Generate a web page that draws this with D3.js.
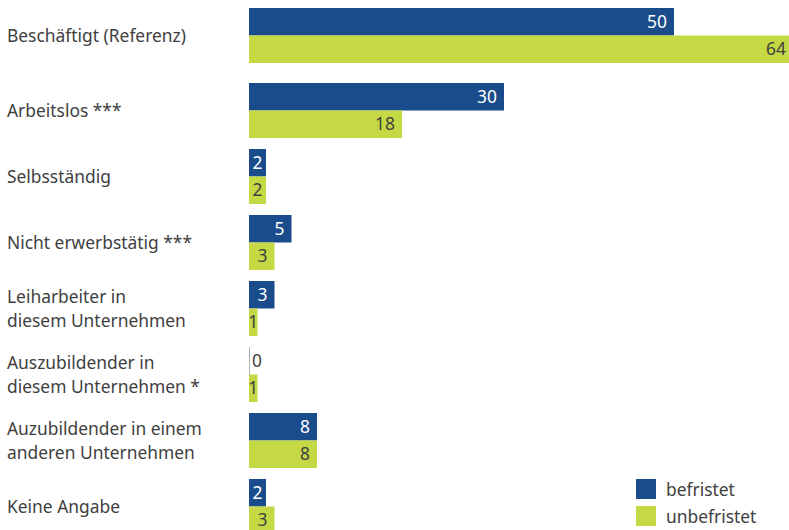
<!DOCTYPE html>
<html>
<head>
<meta charset="utf-8">
<script src="https://cdn.jsdelivr.net/npm/d3@7"></script>
<style>
  body { margin: 0; background: #fff; }
  text { font-family: "Noto Sans", sans-serif; font-size: 17.4px; }
</style>
</head>
<body>
<div id="canvas"></div>
<script>
"use strict"

// DATA

let categories = [
    ["Beschäftigt (Referenz)"],
    ["Arbeitslos ***"],
    ["Selbsständig"],
    ["Nicht erwerbstätig ***"],
    ["Leiharbeiter in", "diesem Unternehmen"],
    ["Auszubildender in", "diesem Unternehmen *"],
    ["Auzubildender in einem", "anderen Unternehmen"],
    ["Keine Angabe"]
];
let seriesNames = ["befristet", "unbefristet"];
let befristet = [50, 30, 2, 5, 3, 0, 8, 2];
let unbefristet = [64, 18, 2, 3, 1, 1, 8, 3];


// CONFIGURATION VARIABLES

let svgWidth = 789;
let svgHeight = 530;
let barLeft = 249;
let pxPerUnit = 8.5;
let refGap = 9;           // extra space below the reference group
let colors = ["#1a4c8b", "#c5d944"];
let textColor = "#404040";


// CREATE SVG

let svg = d3.select("#canvas")
    .append("svg")
    .attr("width", svgWidth)
    .attr("height", svgHeight);


// SCALES

let keys = categories.map(function(c) { return c.join(" "); });

let xScale = d3.scaleLinear()
    .domain([0, 64])
    .range([barLeft, barLeft + 64 * pxPerUnit]);

let yScale = d3.scaleBand()
    .domain(keys)
    .range([17, 534])
    .paddingInner(11 / 66)
    .paddingOuter(0);

let ySub = d3.scaleBand()
    .domain(seriesNames)
    .range([0, yScale.bandwidth()]);

function groupTop(i) {
    return yScale(keys[i]) - (i === 0 ? refGap : 0);
}


// BUILD ROWS

let rows = [];
keys.forEach(function(k, i) {
    rows.push({ i: i, series: 0, value: befristet[i] });
    rows.push({ i: i, series: 1, value: unbefristet[i] });
});


// CATEGORY LABELS

let labels = svg.selectAll("text.category")
    .data(categories)
    .join("text")
    .attr("class", "category")
    .attr("x", 7)
    .attr("fill", textColor)
    .attr("y", function(d, i) {
        let center = groupTop(i) + yScale.bandwidth() / 2;
        return center + 6 - (d.length - 1) * 12;
    });

labels.selectAll("tspan")
    .data(function(d) { return d; })
    .join("tspan")
    .attr("x", 7)
    .attr("dy", function(d, j) { return j === 0 ? 0 : 24; })
    .text(function(d) { return d; });


// BARS

svg.selectAll("rect.bar")
    .data(rows.filter(function(d) { return d.value > 0; }))
    .join("rect")
    .attr("class", "bar")
    .attr("x", xScale(0))
    .attr("y", function(d) { return groupTop(d.i) + ySub(seriesNames[d.series]); })
    .attr("width", function(d) { return xScale(d.value) - xScale(0); })
    .attr("height", ySub.bandwidth())
    .attr("fill", function(d) { return colors[d.series]; });

// zero-value marker
svg.selectAll("line.zero")
    .data(rows.filter(function(d) { return d.value === 0; }))
    .join("line")
    .attr("class", "zero")
    .attr("x1", xScale(0) + 0.5)
    .attr("x2", xScale(0) + 0.5)
    .attr("y1", function(d) { return groupTop(d.i) + ySub(seriesNames[d.series]); })
    .attr("y2", function(d) { return groupTop(d.i) + ySub(seriesNames[d.series]) + ySub.bandwidth(); })
    .attr("stroke", "#b0b0b0")
    .attr("stroke-width", 1);


// VALUE LABELS

svg.selectAll("text.value")
    .data(rows)
    .join("text")
    .attr("class", "value")
    .attr("y", function(d) { return groupTop(d.i) + ySub(seriesNames[d.series]) + ySub.bandwidth() / 2 + 6; })
    .attr("fill", function(d) { return d.series === 0 && d.value > 0 ? "#ffffff" : textColor; })
    .text(function(d) { return d.value; })
    .each(function(d) {
        let t = d3.select(this);
        let w = this.getComputedTextLength();
        let end = xScale(d.value);
        if (d.value === 0) {
            t.attr("text-anchor", "start").attr("x", end + 3);
        } else {
            let cx = Math.max(end - 7 - w / 2, (xScale(0) + end) / 2);
            t.attr("text-anchor", "middle").attr("x", cx);
        }
    });


// LEGEND

let legend = svg.selectAll("g.legend")
    .data(seriesNames)
    .join("g")
    .attr("class", "legend")
    .attr("transform", function(d, i) { return "translate(636," + (479 + i * 27) + ")"; });

legend.append("rect")
    .attr("width", 20)
    .attr("height", 20)
    .attr("fill", function(d, i) { return colors[i]; });

legend.append("text")
    .attr("x", 30)
    .attr("y", 17)
    .attr("fill", textColor)
    .text(function(d) { return d; });
</script>
</body>
</html>
